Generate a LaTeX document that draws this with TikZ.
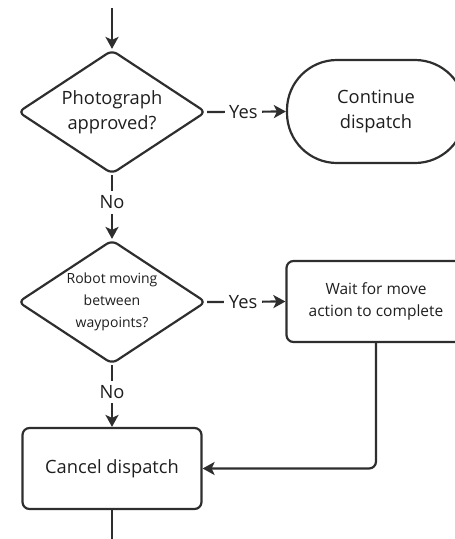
\documentclass[tikz,border=0pt]{standalone}
\usepackage{fontspec}
\setmainfont{Open Sans}
\usetikzlibrary{shapes.geometric,arrows.meta}
\definecolor{ink}{HTML}{2E2E2E}
\definecolor{txt}{HTML}{1E1E1E}
\tikzset{
  every node/.style={text=txt},
  decision/.style={shape=diamond, draw=ink, line width=2.2pt, rounded corners=6pt,
    inner sep=0pt, aspect=1.516, minimum width=188pt, minimum height=124pt, align=center},
  terminal/.style={shape=rectangle, draw=ink, line width=2.2pt, rounded corners=50pt,
    minimum width=178pt, minimum height=103pt, align=center},
  process/.style={shape=rectangle, draw=ink, line width=2.2pt, rounded corners=7pt,
    minimum width=179pt, minimum height=81pt, align=center},
  flow/.style={draw=ink, line width=2.2pt, -{Stealth[length=12pt,width=13pt,inset=3pt]}},
  plain/.style={draw=ink, line width=2.2pt},
  tag/.style={fill=white, inner sep=4.5pt, font=\fontsize{18.3}{22}\selectfont},
  big/.style={font=\fontsize{18.3}{25}\selectfont},
}
\begin{document}
\begin{tikzpicture}[x=1pt,y=-1pt]
\useasboundingbox (0,0) rectangle (455,539);

\node[decision, big] (photo) at (112,112) {Photograph\\approved?};
\node[terminal, big] (cont) at (376,111.5) {Continue\\dispatch};
\node[decision, font=\fontsize{14}{22}\selectfont] (moving) at (112,302) {Robot moving\\between\\waypoints?};
\node[process, font=\fontsize{15.5}{22}\selectfont] (wait) at (376,301.5) {Wait for move\\action to complete};
\node[process, big] (cancel) at (112,468.5) {Cancel dispatch};

\coordinate (entry) at (112,8);
\coordinate (exit) at (112,545);

\draw[flow] (entry) -- (photo.north);
\draw[flow] (photo.east) -- node[tag, pos=0.46] {Yes} (cont.west);
\draw[flow] (photo.south) -- node[tag, pos=0.43] {No} (moving.north);
\draw[flow] (moving.east) -- node[tag, pos=0.46] {Yes} (wait.west);
\draw[flow] (moving.south) -- node[tag, pos=0.43] {No} (cancel.north);
\draw[flow, rounded corners=7pt] (wait.south) |- (cancel.east);
\draw[plain] (cancel.south) -- (exit);
\end{tikzpicture}
\end{document}
